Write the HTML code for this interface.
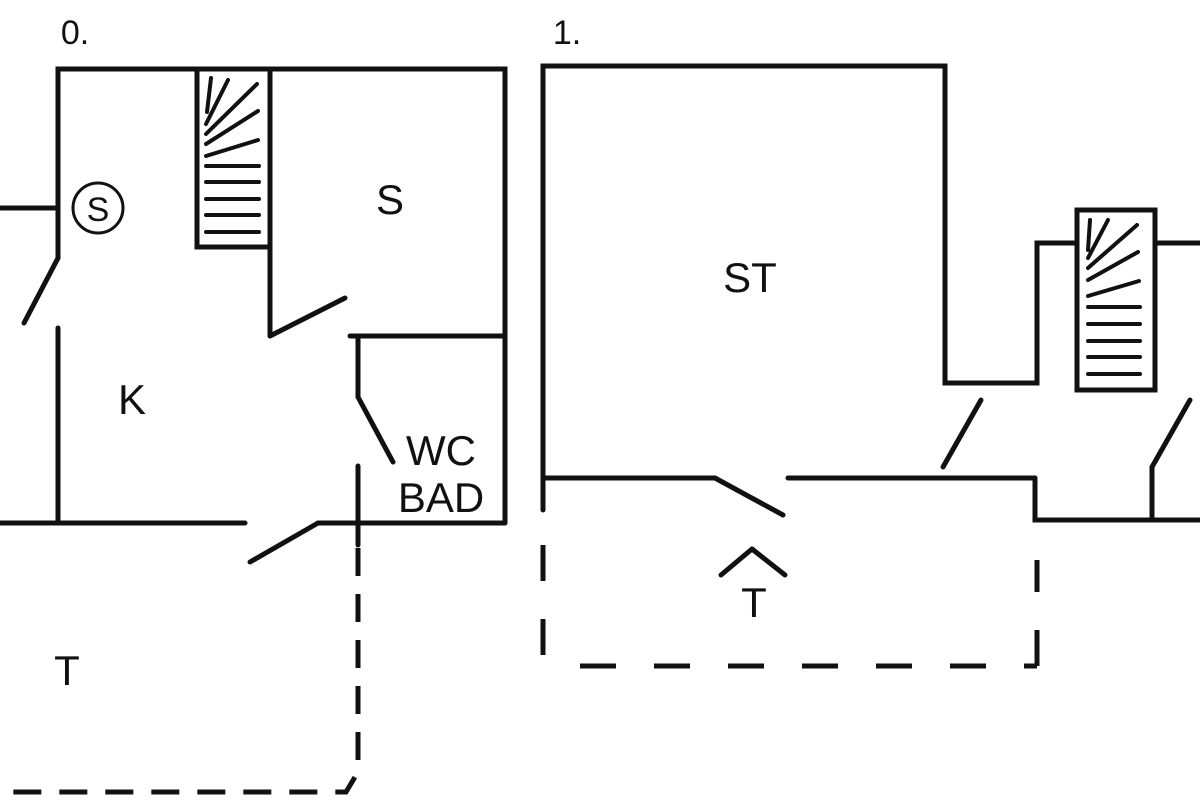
<!DOCTYPE html>
<html><head><style>html,body{margin:0;padding:0;background:#fff}svg{display:block}</style></head>
<body>
<svg width="1200" height="800" viewBox="0 0 1200 800" xmlns="http://www.w3.org/2000/svg">
<g stroke="#111" stroke-width="5" fill="none" stroke-linecap="round" stroke-linejoin="miter">
<!-- left plan -->
<polyline points="58,258 58,69 505,69 505,523"/>
<line x1="0" y1="208" x2="58" y2="208"/>
<circle cx="98" cy="208" r="25" stroke-width="3"/>
<line x1="58" y1="258" x2="24" y2="323"/>
<line x1="58" y1="328" x2="58" y2="523"/>
<rect x="197" y="69" width="73" height="178"/>
<line x1="270" y1="247" x2="270" y2="336"/>
<line x1="270" y1="336" x2="345" y2="298"/>
<line x1="350" y1="336" x2="505" y2="336"/>
<line x1="358" y1="336" x2="358" y2="397"/>
<line x1="358" y1="397" x2="393" y2="462"/>
<line x1="358" y1="466" x2="358" y2="545"/>
<line x1="0" y1="523" x2="245" y2="523"/>
<line x1="250" y1="562" x2="318" y2="523"/>
<line x1="318" y1="523" x2="505" y2="523"/>
<g stroke-width="4">
<line x1="207" y1="112" x2="211" y2="78"/>
<line x1="206" y1="124" x2="228" y2="80"/>
<line x1="206" y1="134" x2="257" y2="84"/>
<line x1="206" y1="144" x2="258" y2="111"/>
<line x1="206" y1="156" x2="258" y2="140"/>
<line x1="206" y1="166" x2="259" y2="166"/>
<line x1="206" y1="182" x2="259" y2="182"/>
<line x1="206" y1="199" x2="259" y2="199"/>
<line x1="206" y1="215" x2="259" y2="215"/>
<line x1="206" y1="232" x2="259" y2="232"/>
</g>
<path d="M358,548 L358,772 L346,792 L0,792" stroke-dasharray="28,18" stroke-linecap="butt"/>
<!-- right plan -->
<polyline points="543,510 543,66 945,66 945,383 1037,383 1037,243 1077,243"/>
<rect x="1077" y="210" width="78" height="180"/>
<line x1="1155" y1="243" x2="1200" y2="243"/>
<g stroke-width="4">
<line x1="1088" y1="250" x2="1090" y2="220"/>
<line x1="1088" y1="258" x2="1108" y2="220"/>
<line x1="1088" y1="268" x2="1137" y2="225"/>
<line x1="1088" y1="280" x2="1138" y2="252"/>
<line x1="1088" y1="296" x2="1139" y2="281"/>
<line x1="1088" y1="307" x2="1140" y2="307"/>
<line x1="1088" y1="324" x2="1140" y2="324"/>
<line x1="1088" y1="341" x2="1140" y2="341"/>
<line x1="1088" y1="357" x2="1140" y2="357"/>
<line x1="1088" y1="374" x2="1140" y2="374"/>
</g>
<line x1="543" y1="478" x2="715" y2="478"/>
<line x1="715" y1="478" x2="783" y2="515"/>
<line x1="788" y1="478" x2="1035" y2="478"/>
<polyline points="1035,478 1035,520 1200,520"/>
<line x1="943" y1="467" x2="981" y2="400"/>
<line x1="1152" y1="467" x2="1190" y2="400"/>
<line x1="1152" y1="467" x2="1152" y2="520"/>
<line x1="721" y1="575" x2="752" y2="549"/>
<line x1="752" y1="549" x2="785" y2="575"/>
<g stroke-dasharray="36,38" stroke-linecap="butt">
<line x1="543" y1="545" x2="543" y2="665"/>
<line x1="580" y1="666" x2="1037" y2="666"/>
<path d="M1037,666 L1037,560"/>
</g>
</g>
<g font-family="'Liberation Sans', sans-serif" fill="#111" text-anchor="middle">
<text x="75" y="44" font-size="34">0.</text>
<text x="567" y="44" font-size="34">1.</text>
<text x="98" y="221" font-size="34">S</text>
<text x="390" y="214" font-size="42">S</text>
<text x="132" y="414" font-size="42">K</text>
<text x="441" y="465" font-size="42">WC</text>
<text x="441" y="512" font-size="42">BAD</text>
<text x="67" y="685" font-size="42">T</text>
<text x="750" y="292" font-size="42">ST</text>
<text x="754" y="617" font-size="42">T</text>
</g>
</svg>
</body></html>
